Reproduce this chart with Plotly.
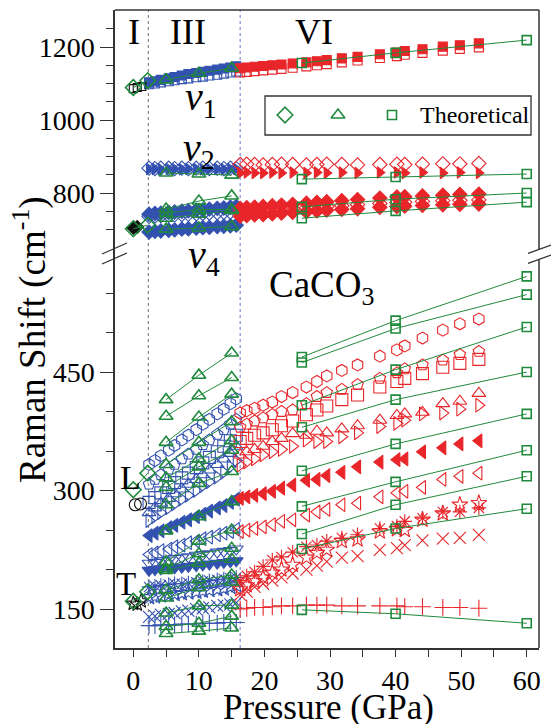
import plotly.graph_objects as go

# ---------------- data ----------------
# Phase I (black, experimental)
P1_SQ = [0.0, 0.6, 1.3]
I_NU1 = [1086, 1089, 1092]
P1_DI = [0.0, 0.6]
I_NU4 = [705, 707]
P1_CI = [0.3, 1.1]
I_L = [282, 283]
P1_ST = [0.0, 0.6, 1.2]
I_T = [157, 156, 160]

# Phase III (blue, experimental)
P3 = [2.4, 3.3, 4.2, 5.4, 6.3, 7.4, 8.4, 9.6, 10.6, 11.6, 12.8, 13.8, 14.8, 15.7]
III_NU1_F = [1103, 1106, 1110, 1114, 1118, 1122, 1126, 1129, 1132, 1135, 1138, 1141, 1144, 1147]
III_NU1_O = [1098, 1100, 1103, 1106, 1109, 1112, 1114, 1117, 1119, 1122, 1124, 1127, 1130, 1133]
III_NU2_O = [868, 867, 868, 868, 867, 868, 867, 868, 868, 867, 868, 867, 868, 867]
III_NU2_F = [866, 866, 865, 866, 866, 865, 866, 866, 865, 866, 866, 865, 866, 866]
III_NU4_A = [742, 744, 745, 747, 748, 750, 751, 753, 754, 756, 758, 759, 761, 763]
III_NU4_B = [736, 737, 738, 739, 740, 741, 742, 743, 744, 745, 746, 747, 748, 750]
III_NU4_C = [693, 695, 696, 698, 699, 701, 702, 704, 705, 706, 708, 709, 710, 712]
III_HEX = [333, 338, 344, 351, 357, 364, 370, 377, 384, 390, 397, 403, 410, 416]
III_PEN = [308, 314, 320, 327, 333, 340, 346, 352, 358, 364, 371, 377, 384, 390]
III_SQ = [285, 291, 297, 304, 310, 316, 322, 329, 335, 342, 349, 356, 363, 370]
III_TUP = [272, 278, 284, 290, 296, 302, 308, 314, 320, 326, 333, 340, 347, 356]
III_TRI = [262, 267, 272, 278, 283, 289, 294, 300, 306, 311, 317, 323, 330, 338]
III_TLF = [243, 246, 249, 253, 256, 260, 263, 267, 270, 274, 278, 281, 285, 289]
III_TLO = [219, 221, 224, 226, 229, 231, 234, 236, 239, 241, 244, 246, 248, 251]
III_TDO = [208, 209, 211, 212, 214, 215, 216, 218, 219, 220, 222, 223, 224, 226]
III_TDF = [199, 200, 201, 202, 202, 203, 204, 205, 206, 207, 208, 209, 210, 211]
III_AST = [178, 179, 180, 181, 182, 182, 183, 184, 185, 186, 187, 188, 189, 190]
III_STAR = [165, 166, 167, 168, 169, 170, 171, 172, 173, 174, 175, 176, 178, 180]
III_X = [140, 141, 143, 144, 145, 147, 148, 150, 151, 152, 154, 155, 156, 158]
III_PLUS = [129, 129, 130, 130, 130, 131, 131, 131, 132, 132, 132, 133, 133, 133]

# Phase VI (red, experimental)
P6 = [16.3, 17.3, 18.5, 19.8, 21.2, 22.6, 24.3, 26.4, 28.0, 29.5, 31.8, 34.2, 37.6, 40.2, 41.4, 44.1, 47.2, 49.8, 52.7]
VI_NU1_F = [1142, 1144, 1146, 1148, 1150, 1152, 1155, 1158, 1161, 1164, 1169, 1173, 1180, 1185, 1189, 1194, 1201, 1205, 1210]
VI_NU1_O = [1130, 1132, 1134, 1136, 1138, 1140, 1143, 1147, 1150, 1153, 1158, 1163, 1170, 1175, 1179, 1184, 1190, 1195, 1199]
VI_NU2_O = [878, 879, 878, 877, 878, 879, 878, 877, 878, 879, 878, 877, 878, 879, 878, 879, 880, 880, 881]
VI_NU2_F = [855, 856, 855, 855, 856, 855, 856, 855, 856, 855, 856, 855, 856, 856, 855, 856, 855, 856, 855]
VI_NU4_A = [758, 760, 761, 763, 765, 767, 769, 772, 774, 776, 779, 782, 786, 789, 790, 792, 794, 796, 797]
VI_NU4_B = [748, 749, 750, 752, 753, 755, 757, 759, 761, 763, 765, 768, 771, 774, 775, 777, 779, 780, 781]
VI_NU4_C = [737, 738, 740, 741, 743, 745, 747, 749, 751, 753, 755, 757, 761, 763, 764, 766, 768, 769, 770]
VI_HEX = [398, 401, 404, 408, 412, 419, 424, 431, 438, 445, 452, 459, 470, 478, 483, 493, 503, 511, 517]
VI_PEN = [380, 384, 388, 392, 396, 400, 402, 410, 419, 424, 428, 434, 442, 449, 454, 459, 465, 472, 476]
VI_SQ = [362, 366, 370, 373, 377, 382, 388, 396, 402, 407, 415, 421, 431, 438, 442, 448, 456, 461, 466]
VI_TUP = [345, 349, 352, 356, 362, 366, 372, 370, 375, 373, 378, 382, 389, 395, 397, 399, 410, 413, 423]
VI_TRI = [332, 336, 340, 345, 349, 352, 356, 364, 362, 362, 368, 373, 381, 385, 389, 397, 398, 403, 408]
VI_TLF = [290, 292, 294, 296, 299, 303, 307, 313, 314, 319, 323, 330, 336, 339, 340, 349, 354, 359, 363]
VI_TLO = [248, 250, 252, 254, 257, 261, 263, 269, 273, 276, 282, 284, 292, 297, 299, 304, 314, 318, 322]
VI_AST = [186, 192, 197, 204, 212, 216, 222, 229, 231, 236, 240, 244, 252, 255, 261, 265, 273, 273, 278]
VI_STAR = [175, 180, 185, 190, 196, 200, 206, 215, 221, 225, 236, 238, 248, 251, 250, 263, 271, 282, 284]
VI_X = [168, 172, 178, 182, 186, 190, 195, 200, 205, 210, 215, 217, 225, 227, 231, 237, 239, 240, 244]
VI_PLUS = [150, 151, 152, 152, 153, 154, 154, 155, 155, 155, 154, 154, 154, 154, 153, 153, 152, 152, 151]

# Theoretical (green)
G_I_P = [0.0, 2.2]
G_I_NU1 = [1089, 1108]
G_I_NU4 = [702, 712]
G_I_L = [301, 322]
G_I_T = [160, 172]

G_III_P = [5, 10, 15]
G_III_NU1 = [1110, 1128, 1142]
G_III_NU2 = [855, 852, 849]
G_III_NU4_AT5 = [756, 745, 731, 701]
G_III_NU4_AT10 = [778, 755, 742, 704]
G_III_NU4_AT15 = [792, 755, 752, 708]
G_III_AT5 = [415, 394, 361, 333, 316, 304, 282, 249, 210, 201, 199, 174, 164, 145, 128, 119]
G_III_AT10 = [446, 420, 393, 361, 340, 330, 309, 267, 236, 220, 208, 187, 177, 154, 132, 122]
G_III_AT15 = [474, 443, 422, 387, 363, 351, 324, 286, 250, 227, 213, 193, 184, 155, 141, 126]

G_VI_P = [25.7, 40, 60]
G_VI_NU1 = [1156, 1184, 1219]
G_VI_NU2 = [838, 844, 852]
G_VI_NU4_AT25 = [762, 731]
G_VI_NU4_AT40 = [783, 751]
G_VI_NU4_AT60 = [800, 775]
G_VI_AT25 = [469, 462, 408, 380, 325, 280, 245, 226, 149]
G_VI_AT40 = [515, 505, 453, 415, 359, 311, 282, 252, 144]
G_VI_AT60 = [571, 548, 507, 450, 397, 351, 318, 277, 132]

# ---------------- styling ----------------
BLUE = "#3352b0"
RED = "#e8262a"
GREEN = "#1f8a3c"
BLACK = "#111111"
FRAME = "#333333"
FONT = "Liberation Serif"

W, H = 551, 724
L, R, T, B = 115, 539, 10, 648          # plot area in pixels
SPLIT = 252                             # pixel row where panels meet
DOM = (B - SPLIT) / (B - T)


def px_x(px):
    return (px - L) / (R - L)


def px_y(py):
    return (B - py) / (B - T)


fig = go.Figure()


def add(xs, ys, top, symbol, color, size=10, lw=1.1, mode="markers", line_w=1.0):
    fig.add_trace(go.Scatter(
        x=xs, y=ys, mode=mode, xaxis="x", yaxis="y2" if top else "y",
        marker=dict(symbol=symbol, size=size, color=color,
                    line=dict(width=lw, color=color)),
        line=dict(color=color, width=line_w),
        showlegend=False, hoverinfo="skip", cliponaxis=False))


# phase III blue
add(P3, III_NU1_O, True, "square-open", BLUE, 9)
add(P3, III_NU1_F, True, "square", BLUE, 9)
add(P3, III_NU2_O, True, "diamond-open", BLUE, 11)
add(P3, III_NU2_F, True, "triangle-right", BLUE, 10)
add(P3, III_NU4_B, True, "diamond-open", BLUE, 11)
add(P3, III_NU4_A, True, "diamond", BLUE, 11)
add(P3, III_NU4_C, True, "diamond", BLUE, 11)
for ys, sym in [(III_HEX, "hexagon-open"), (III_PEN, "pentagon-open"), (III_SQ, "square-open"),
                (III_TUP, "triangle-up-open"), (III_TRI, "triangle-right-open"),
                (III_TLF, "triangle-left"), (III_TLO, "triangle-left-open"),
                (III_TDO, "triangle-down-open"), (III_TDF, "triangle-down"),
                (III_AST, "asterisk-open"), (III_STAR, "star-open"),
                (III_X, "x-thin-open"), (III_PLUS, "cross-thin-open")]:
    add(P3, ys, False, sym, BLUE, 12)

# phase VI red
add(P6, VI_NU1_O, True, "square-open", RED, 9)
add(P6, VI_NU1_F, True, "square", RED, 9)
add(P6, VI_NU2_O, True, "diamond-open", RED, 11)
add(P6, VI_NU2_F, True, "triangle-right", RED, 10)
add(P6, VI_NU4_A, True, "diamond", RED, 11)
add(P6, VI_NU4_B, True, "diamond-x-open", RED, 11)
add(P6, VI_NU4_C, True, "diamond", RED, 11)
for ys, sym in [(VI_HEX, "hexagon-open"), (VI_PEN, "pentagon-open"), (VI_SQ, "square-open"),
                (VI_TUP, "triangle-up-open"), (VI_TRI, "triangle-right-open"),
                (VI_TLF, "triangle-left"), (VI_TLO, "triangle-left-open"),
                (VI_AST, "asterisk-open"), (VI_STAR, "star-open"),
                (VI_X, "x-thin-open"), (VI_PLUS, "cross-thin-open")]:
    add(P6, ys, False, sym, RED, 12)

# phase I black
add(P1_SQ, I_NU1, True, "square-open", BLACK, 8)
add(P1_DI, I_NU4, True, "diamond", BLACK, 10)
add(P1_CI, I_L, False, "circle-open", BLACK, 12)
add(P1_ST, I_T, False, "star-open", BLACK, 11)

# theoretical green
for ys, top in [(G_I_NU1, True), (G_I_NU4, True), (G_I_L, False), (G_I_T, False)]:
    add(G_I_P, ys, top, "diamond-open", GREEN, 12, 1.6, "lines+markers")
add(G_III_P, G_III_NU1, True, "triangle-up-open", GREEN, 12, 1.6, "lines+markers")
add(G_III_P, G_III_NU2, True, "triangle-up-open", GREEN, 12, 1.6, "lines+markers")
for a, b, c in zip(G_III_NU4_AT5, G_III_NU4_AT10, G_III_NU4_AT15):
    add(G_III_P, [a, b, c], True, "triangle-up-open", GREEN, 12, 1.6, "lines+markers")
for a, b, c in zip(G_III_AT5, G_III_AT10, G_III_AT15):
    add(G_III_P, [a, b, c], False, "triangle-up-open", GREEN, 12, 1.6, "lines+markers")
add(G_VI_P, G_VI_NU1, True, "square-open", GREEN, 9, 1.6, "lines+markers")
add(G_VI_P, G_VI_NU2, True, "square-open", GREEN, 9, 1.6, "lines+markers")
for a, b, c in zip(G_VI_NU4_AT25, G_VI_NU4_AT40, G_VI_NU4_AT60):
    add(G_VI_P, [a, b, c], True, "square-open", GREEN, 9, 1.6, "lines+markers")
for a, b, c in zip(G_VI_AT25, G_VI_AT40, G_VI_AT60):
    add(G_VI_P, [a, b, c], False, "square-open", GREEN, 9, 1.6, "lines+markers")

# legend keys (positioned from pixel layout)
XR = (-2.79, 61.87)
YR_TOP = (638.4, 1301.4)
YR_BOT = (100.7, 601.9)


def dx(px):
    return XR[0] + (px - L) / (R - L) * (XR[1] - XR[0])


def dy_top(py):
    return YR_TOP[0] + (SPLIT - py) / (SPLIT - T) * (YR_TOP[1] - YR_TOP[0])


for px, sym, sz in [(285, "diamond-open", 12), (338, "triangle-up-open", 12), (392, "square-open", 9)]:
    fig.add_trace(go.Scatter(x=[dx(px)], y=[dy_top(115)], xaxis="x", yaxis="y2", mode="markers",
                             marker=dict(symbol=sym, size=sz, color=GREEN, line=dict(width=1.6, color=GREEN)),
                             showlegend=False, hoverinfo="skip"))

# ---------------- layout ----------------
tickfont = dict(family=FONT, size=28, color="black")
fig.update_layout(
    width=W, height=H, margin=dict(l=L, r=W - R, t=T, b=H - B),
    paper_bgcolor="white", plot_bgcolor="white", showlegend=False,
    xaxis=dict(domain=[0, 1], anchor="y", range=list(XR), tickmode="linear", tick0=0, dtick=10,
               ticks="outside", ticklen=7, tickwidth=1.3, tickcolor=FRAME,
               minor=dict(tickvals=[5, 15, 25, 35, 45, 55], ticks="outside", ticklen=7, tickwidth=1.3, tickcolor=FRAME),
               showline=True, linecolor=FRAME, linewidth=1.5, showgrid=False, zeroline=False,
               tickfont=tickfont),
    yaxis=dict(domain=[0, DOM], anchor="x", range=list(YR_BOT), tickmode="array", tickvals=[150, 300, 450],
               ticks="outside", ticklen=13, tickwidth=1.3, tickcolor=FRAME,
               minor=dict(tickvals=[200, 250, 350, 400, 500, 550], ticks="outside", ticklen=7, tickwidth=1.3, tickcolor=FRAME),
               showline=True, linecolor=FRAME, linewidth=1.5, showgrid=False, zeroline=False,
               tickfont=tickfont),
    yaxis2=dict(domain=[DOM, 1], anchor="x", range=list(YR_TOP), tickmode="array", tickvals=[800, 1000, 1200],
                ticks="outside", ticklen=13, tickwidth=1.3, tickcolor=FRAME,
                minor=dict(tickvals=[700, 750, 850, 900, 950, 1050, 1100, 1150, 1250], ticks="outside", ticklen=7,
                           tickwidth=1.3, tickcolor=FRAME),
                showline=True, linecolor=FRAME, linewidth=1.5, showgrid=False, zeroline=False,
                tickfont=tickfont),
)

shapes = []
# top frame and broken right frame
shapes.append(dict(type="line", xref="paper", yref="paper", x0=0, x1=1, y0=1, y1=1, line=dict(color=FRAME, width=1.5)))
shapes.append(dict(type="line", xref="paper", yref="paper", x0=1, x1=1, y0=1, y1=px_y(249.5), line=dict(color=FRAME, width=1.5)))
shapes.append(dict(type="line", xref="paper", yref="paper", x0=1, x1=1, y0=px_y(259.5), y1=0, line=dict(color=FRAME, width=1.5)))
# break marks
for (x0, y0, x1, y1) in [(102, 254, 127, 243), (102, 264, 127, 253), (528, 253.3, 551, 245), (528, 263.3, 551, 255)]:
    shapes.append(dict(type="line", xref="paper", yref="paper", x0=px_x(x0), y0=px_y(y0), x1=px_x(x1), y1=px_y(y1),
                       line=dict(color=FRAME, width=1.3)))
# phase boundaries
shapes.append(dict(type="line", xref="x", yref="paper", x0=2.3, x1=2.3, y0=0, y1=1, layer="below",
                   line=dict(color="#8a8a8a", width=1.2, dash="dot")))
shapes.append(dict(type="line", xref="x", yref="paper", x0=16.3, x1=16.3, y0=0, y1=1, layer="below",
                   line=dict(color="#7f8fd6", width=1.2, dash="dot")))
# legend box
shapes.append(dict(type="rect", xref="paper", yref="paper", x0=px_x(265), x1=px_x(531), y0=px_y(135), y1=px_y(96),
                   line=dict(color=FRAME, width=1.3), fillcolor="rgba(0,0,0,0)"))
fig.update_layout(shapes=shapes)


def ann(text, px, py, size, xanchor="center", angle=0):
    fig.add_annotation(text=text, xref="paper", yref="paper", x=px_x(px), y=px_y(py), showarrow=False,
                       xanchor=xanchor, yanchor="middle", textangle=angle, borderpad=0,
                       font=dict(family=FONT, size=size, color="black"))


ann("I", 134, 32, 36)
ann("III", 188, 32, 36)
ann("VI", 314, 32, 36)
ann("<i>ν</i><sub>1</sub>", 184, 99, 40, "left")
ann("<i>ν</i><sub>2</sub>", 182, 150, 40, "left")
ann("<i>ν</i><sub>4</sub>", 187, 257, 40, "left")
ann("CaCO<sub>3</sub>", 268, 287, 37, "left")
ann("L", 130, 477, 34)
ann("T", 126, 584, 33)
ann("Theoretical", 419, 115, 24, "left")
ann("Raman Shift (cm<sup>-1</sup>)", 30, 340, 37, angle=-90)
ann("Pressure (GPa)", 328, 707, 35)

fig.write_html("out.html")
